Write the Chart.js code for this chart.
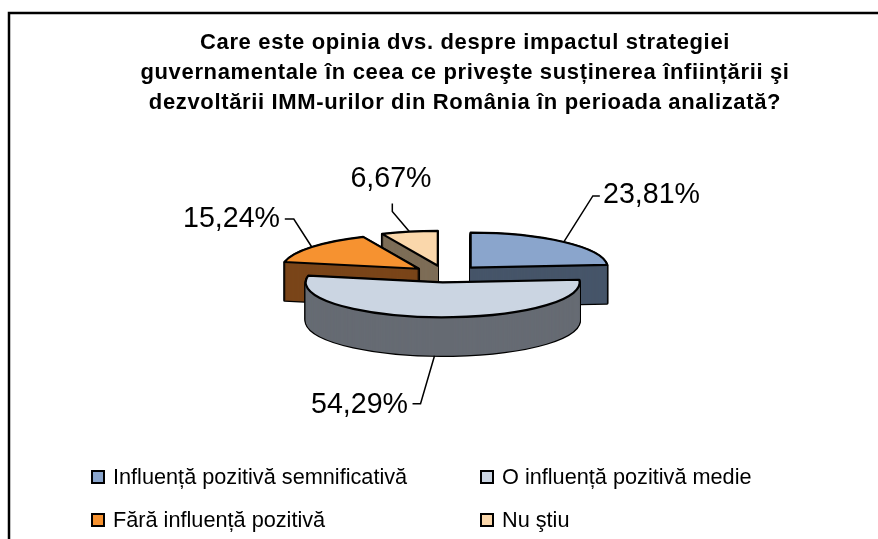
<!DOCTYPE html>
<html><head><meta charset="utf-8">
<script src="https://cdn.jsdelivr.net/npm/chart.js@4"></script>
<style>html,body{margin:0;padding:0;background:#fff}canvas{display:block}</style>
</head><body>
<div style="width:878px;height:539px"><canvas id="c"></canvas></div>
<script>
const titleLines = ["Care este opinia dvs. despre impactul strategiei","guvernamentale în ceea ce priveşte susținerea înființării şi","dezvoltării IMM-urilor din România în perioada analizată?"];
const categories = ["Influență pozitivă semnificativă","O influență pozitivă medie","Fără influență pozitivă","Nu ştiu"];
const values = [23.81,54.29,15.24,6.67];
const valueLabels = ["23,81%","54,29%","15,24%","6,67%"];
const faceColors = ["#8aa5cc","#cbd5e2","#f69230","#fad7ab"];
const wallColors = ["#465569","#666b73","#7a4519","#7d6d57"];
const drawOrder = [3,2,0,1];
const explode = [37,47,34,37];
// leader routing relative to each slice's rim anchor: elbow, end, label position
const leaderElbow = [[29,-46],[-14,48],[-18,-28],[-17,-20]];
const leaderEnd = [[36,-46],[-22,48],[-27,-28],[-17,-28]];
const labelAt = [[603,195.5,"left"],[408,405,"right"],[280,219.5,"right"],[391,179,"center"]];
const legendRows = [[91,470],[480,470],[91,513],[480,513]];

const CX=445.5, CY=273, SQ=0.255, EXSQ=0.2, DEPTH=38.5;

const pie3d = {
  id:'pie3d',
  beforeDraw(chart){ chart.ctx.letterSpacing='0.65px'; },
  beforeDatasetsDraw(chart){
    const ctx=chart.ctx, arcs=chart.getDatasetMeta(0).data;
    ctx.letterSpacing='0px';
    const centre=(a,i)=>{
      const mid=(a.startAngle+a.endAngle)/2;
      return [CX+Math.cos(mid)*explode[i], CY+Math.sin(mid)*explode[i]*EXSQ];
    };
    const face=(a,i,dy)=>{
      const [ox,oy0]=centre(a,i), oy=oy0+dy;
      ctx.beginPath();
      ctx.moveTo(ox,oy);
      ctx.ellipse(ox,oy,a.outerRadius,a.outerRadius*SQ,0,a.startAngle,a.endAngle);
      ctx.closePath();
    };
    ctx.save();
    ctx.lineJoin='round';
    drawOrder.forEach(i=>{
      const a=arcs[i];
      ctx.strokeStyle='#000'; ctx.lineWidth=2.4;
      for(let k=DEPTH;k>=0;k-=1){face(a,i,k);ctx.stroke();}
      ctx.fillStyle=wallColors[i];
      for(let k=DEPTH;k>=0;k-=1){face(a,i,k);ctx.fill();}
      face(a,i,0);ctx.fillStyle=faceColors[i];ctx.fill();
      ctx.lineWidth=2.2;ctx.stroke();
    });
    // leaders + value labels
    ctx.strokeStyle='#000';ctx.lineWidth=1.5;ctx.lineJoin='miter';
    ctx.font='28.6px "Liberation Sans"';ctx.fillStyle='#000';ctx.textBaseline='middle';
    arcs.forEach((a,i)=>{
      const mid=(a.startAngle+a.endAngle)/2;
      const dep=(i===1)?DEPTH:0;
      const [ox,oy]=centre(a,i);
      const x=ox+Math.cos(mid)*a.outerRadius, y=oy+Math.sin(mid)*a.outerRadius*SQ+dep;
      ctx.beginPath();ctx.moveTo(x,y);
      ctx.lineTo(x+leaderElbow[i][0],y+leaderElbow[i][1]);
      ctx.lineTo(x+leaderEnd[i][0],y+leaderEnd[i][1]);
      ctx.stroke();
      ctx.textAlign=labelAt[i][2];
      ctx.fillText(valueLabels[i],labelAt[i][0],labelAt[i][1]);
    });
    // legend
    ctx.font='21.7px "Liberation Sans"';ctx.textAlign='left';
    categories.forEach((t,i)=>{
      const [x,y]=legendRows[i];
      ctx.fillStyle=faceColors[i];ctx.fillRect(x+1,y+1,12,12);
      ctx.strokeStyle='#000';ctx.lineWidth=2;ctx.strokeRect(x+1,y+1,12,12);
      ctx.fillStyle='#000';ctx.fillText(t,x+22,y+8);
    });
    // frame
    ctx.strokeStyle='#000';ctx.lineWidth=2.5;
    ctx.beginPath();ctx.moveTo(9,539);ctx.lineTo(9,13);ctx.lineTo(878,13);ctx.stroke();
    ctx.restore();
    return false;
  }
};

new Chart(document.getElementById('c'),{
  type:'pie',
  data:{labels:categories,datasets:[{data:values,backgroundColor:faceColors,borderWidth:0}]},
  options:{
    responsive:true,maintainAspectRatio:false,animation:false,
    radius:137,
    layout:{padding:{left:52}},
    plugins:{
      legend:{display:false},tooltip:{enabled:false},
      title:{display:true,text:titleLines,color:'#000',
        font:{family:'"Liberation Sans"',size:22,weight:'bold',lineHeight:1.364},
        padding:{top:28,bottom:0}}
    }
  },
  plugins:[pie3d]
});
</script>
</body></html>
